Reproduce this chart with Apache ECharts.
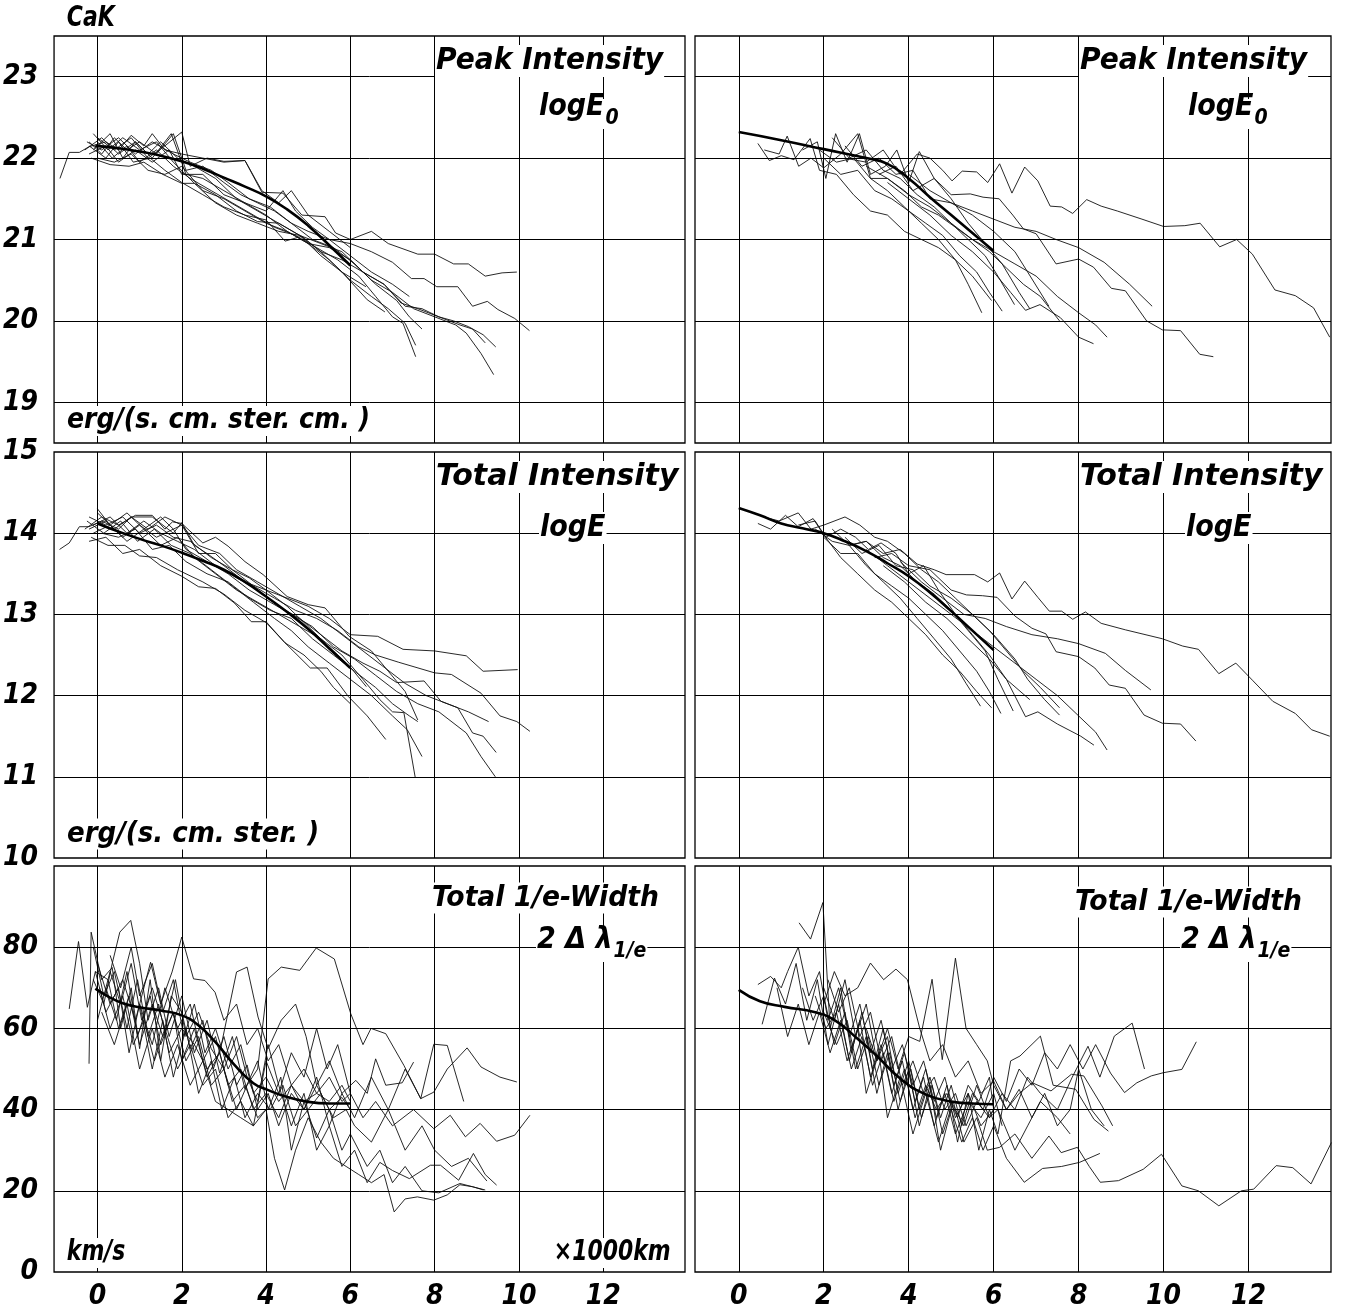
<!DOCTYPE html>
<html>
<head>
<meta charset="utf-8">
<title>CaK</title>
<script src="https://cdn.jsdelivr.net/npm/echarts@6/dist/echarts.min.js"></script>
<style>
html, body { margin: 0; padding: 0; background: #fff; }
#main { width: 1346px; height: 1311px; }
</style>
</head>
<body>
<div id="main"></div>
<script>
// ticks and grid lines
var xTicks = [0, 2, 4, 6, 8, 10, 12];
var peakTicks = [19, 20, 21, 22, 23];
var totalTicks = [10, 11, 12, 13, 14, 15];
var widthTicks = [0, 20, 40, 60, 80];
var peakGrid = [19, 20, 21, 22, 23];
var totalGrid = [11, 12, 13, 14];
var widthGrid = [20, 40, 60, 80];

// Peak Intensity logE0, left
var peakLeftMean = [[-0.05,22.15],[0.5,22.12],[1,22.08],[1.5,22.03],[2,21.96],[2.5,21.87],[3,21.76],[3.5,21.65],[4,21.53],[4.5,21.37],[5,21.17],[5.5,20.93],[6,20.68]];
var peakLeft = [
  [[-0.89,21.75],[-0.67,22.07],[-0.43,22.07],[-0.2,22.14],[0.2,22.2],[0.5,22.1],[0.8,22.28],[1.1,22.15],[1.3,22.3],[1.6,22.1],[2.0,22.05],[2.5,22.0],[3.0,21.95],[3.5,21.97],[3.9,21.58],[4.4,21.57],[4.85,21.3],[5.4,21.28],[5.65,21.08],[6.0,21.0],[6.5,21.1],[6.9,20.95],[7.6,20.82],[8.0,20.82],[8.45,20.7],[8.8,20.7],[9.2,20.55],[9.6,20.59],[9.95,20.6]],
  [[-0.2,22.2],[0.1,22.05],[0.4,22.25],[0.7,22.1],[1.0,22.2],[1.4,22.05],[1.8,22.3],[2.1,21.85],[2.5,21.9],[3.0,21.7],[3.4,21.55],[3.8,21.45],[4.2,21.35],[4.6,21.2],[5.0,21.1],[5.5,21.0],[6.0,20.95],[6.5,20.85],[7.0,20.72],[7.45,20.52],[7.75,20.52],[8.05,20.42],[8.55,20.42],[8.9,20.18],[9.25,20.24],[9.5,20.14],[9.9,20.03],[10.25,19.88]],
  [[-0.1,22.1],[0.3,22.3],[0.6,22.0],[0.9,22.2],[1.2,22.05],[1.5,22.2],[1.9,22.0],[2.3,21.9],[2.8,21.75],[3.3,21.5],[3.8,21.35],[4.3,21.2],[4.8,21.05],[5.3,20.95],[5.8,20.85],[6.3,20.6],[6.8,20.45],[7.3,20.18],[7.7,20.15],[8.1,20.05],[8.45,20.0],[8.8,19.93],[9.15,19.83],[9.45,19.68]],
  [[-0.2,22.05],[0.2,22.15],[0.5,21.95],[0.9,22.1],[1.3,21.95],[1.7,22.1],[2.0,21.8],[2.5,21.8],[3.0,21.55],[3.5,21.45],[4.0,21.3],[4.5,21.1],[5.0,20.95],[5.5,20.9],[6.0,20.75],[6.5,20.5],[7.0,20.35],[7.5,20.15],[8.0,20.05],[8.5,19.95],[8.75,19.85],[9.1,19.6],[9.4,19.34]],
  [[-0.25,22.2],[0.1,22.1],[0.5,22.25],[0.9,22.05],[1.3,22.2],[1.8,22.05],[2.2,21.95],[2.7,21.85],[3.1,21.7],[3.6,21.5],[4.1,21.4],[4.6,21.2],[5.1,21.0],[5.6,20.9],[6.1,20.7],[6.6,20.45],[7.1,20.25],[7.4,20.05],[7.7,19.9]],
  [[0.0,22.2],[0.35,22.0],[0.7,22.15],[1.0,21.95],[1.4,22.1],[1.8,21.9],[2.2,21.75],[2.7,21.6],[3.2,21.45],[3.7,21.3],[4.2,21.15],[4.7,21.05],[5.2,20.9],[5.7,20.75],[6.2,20.55],[6.6,20.3],[7.0,20.05],[7.25,19.97],[7.55,19.56]],
  [[-0.2,22.15],[0.2,22.0],[0.5,22.2],[0.85,21.95],[1.25,22.0],[1.6,21.85],[2.0,21.7],[2.5,21.55],[3.0,21.4],[3.5,21.3],[4.0,21.24],[4.45,20.98],[4.85,21.04],[5.3,20.85],[5.8,20.6],[6.4,20.26],[6.82,20.11]],
  [[-0.1,22.3],[0.25,22.1],[0.6,22.25],[1.0,22.1],[1.4,22.2],[1.8,21.95],[2.3,21.69],[2.8,21.55],[3.3,21.35],[3.8,21.22],[4.3,21.2],[4.8,21.05],[5.3,20.8],[5.8,20.6],[6.37,20.42]],
  [[-0.15,22.0],[0.3,21.92],[0.75,21.9],[1.1,21.95],[1.55,21.8],[2.0,21.69],[2.3,21.69],[2.8,21.45],[3.3,21.3],[3.8,21.2],[4.3,21.1],[4.8,21.05],[5.3,20.85],[5.8,20.75],[6.3,20.6],[6.8,20.45],[7.2,20.22],[7.6,20.15],[8.1,20.05],[8.6,19.95],[8.9,19.9],[9.2,19.73]],
  [[0.0,22.25],[0.4,22.1],[0.8,22.25],[1.2,22.0],[1.6,22.15],[2.0,22.32],[2.2,21.9],[2.6,22.0],[3.0,21.96],[3.5,21.97],[3.9,21.6],[4.3,21.45],[4.6,21.6],[5.0,21.3],[5.5,21.1],[6.0,20.9]],
  [[-0.3,22.1],[0.1,22.25],[0.5,22.05],[0.9,22.2],[1.3,22.0],[1.75,22.3],[2.1,21.8],[2.5,21.75],[3.0,21.6],[3.5,21.45],[4.0,21.35],[4.4,21.6],[4.7,21.35],[5.1,21.15],[5.5,21.0],[6.0,20.8],[6.5,20.6],[7.0,20.45],[7.4,20.3]],
  [[0.0,22.0],[0.4,21.95],[0.8,22.05],[1.2,21.85],[1.6,21.8],[2.0,21.9],[2.5,21.6],[3.0,21.5],[3.5,21.35],[4.0,21.2],[4.5,21.1],[5.0,20.95],[5.5,20.75],[6.0,20.5],[6.5,20.3],[6.9,20.15],[7.3,19.97],[7.55,19.7]]
];

// Peak Intensity logE0, right
var peakRightMean = [[0,22.32],[1,22.22],[2,22.11],[3,22.0],[3.5,21.93],[4,21.75],[4.5,21.52],[5,21.3],[5.5,21.08],[6,20.86]];
var peakRight = [
  [[2.5,22.0],[3.0,21.95],[3.4,22.1],[3.8,21.8],[4.2,22.05],[4.5,22.0],[4.8,21.85],[5.02,21.72],[5.26,21.84],[5.6,21.83],[5.86,21.7],[6.14,21.93],[6.43,21.57],[6.73,21.89],[7.04,21.72],[7.33,21.41],[7.6,21.4],[7.86,21.32],[8.19,21.49],[8.53,21.41],[8.91,21.35],[9.49,21.25],[10.0,21.16],[10.5,21.17],[10.86,21.2],[11.32,20.91],[11.72,21.0],[12.09,20.82],[12.62,20.38],[13.1,20.31],[13.53,20.16],[13.91,19.8]],
  [[3.3,21.8],[3.7,21.9],[4.1,21.6],[4.6,21.75],[5.0,21.55],[5.45,21.56],[5.75,21.52],[6.13,21.5],[6.45,21.3],[6.7,21.13],[7.0,21.07],[7.47,20.7],[8.0,20.76],[8.35,20.66],[8.77,20.4],[9.1,20.37],[9.6,20.0],[9.97,19.89],[10.4,19.88],[10.85,19.59],[11.17,19.56]],
  [[4.0,21.8],[4.5,21.6],[5.0,21.45],[5.5,21.35],[6.0,21.25],[6.5,21.15],[7.0,21.1],[7.47,21.0],[8.0,20.9],[8.6,20.72],[9.2,20.45],[9.73,20.18]],
  [[3.0,21.9],[3.5,21.75],[4.0,21.55],[4.5,21.4],[5.0,21.2],[5.5,21.0],[6.0,20.85],[6.5,20.7],[7.0,20.55],[7.5,20.3],[8.0,20.1],[8.4,19.95],[8.67,19.8]],
  [[3.5,21.7],[4.0,21.5],[4.5,21.3],[5.0,21.05],[5.5,20.85],[6.0,20.6],[6.4,20.35],[6.75,20.13],[7.09,20.2],[7.57,20.04],[8.0,19.8],[8.35,19.72]],
  [[1.9,22.1],[2.3,21.95],[2.7,22.0],[3.1,21.75],[3.5,21.6],[3.9,21.4],[4.3,21.2],[4.7,21.0],[5.1,20.75],[5.4,20.45],[5.72,20.1]],
  [[2.0,22.0],[2.4,21.8],[2.8,21.85],[3.2,21.6],[3.6,21.5],[4.0,21.35],[4.4,21.2],[4.8,21.05],[5.2,20.8],[5.6,20.6],[5.9,20.35],[6.2,20.12]],
  [[2.2,22.25],[2.6,22.0],[3.0,22.1],[3.4,21.85],[3.8,21.75],[4.2,21.55],[4.6,21.4],[5.0,21.2],[5.4,21.0],[5.8,20.8],[6.1,20.55],[6.49,20.2]],
  [[2.5,22.15],[2.9,21.9],[3.3,22.0],[3.7,21.8],[4.1,21.85],[4.5,21.5],[5.0,21.45],[5.5,21.3],[6.0,21.1],[6.5,20.85],[6.8,20.6],[7.3,20.18]],
  [[0.45,22.18],[0.72,21.97],[1.0,22.03],[1.3,21.98],[1.68,22.24],[1.9,21.85],[2.3,21.8],[2.7,21.55],[3.1,21.35],[3.5,21.3],[3.9,21.1],[4.3,21.0],[4.7,20.9],[5.1,20.75],[5.5,20.55],[5.95,20.25]],
  [[0.6,22.1],[0.95,22.05],[1.14,22.27],[1.41,21.9],[1.7,22.0],[2.0,21.88],[2.4,22.05],[2.8,22.3],[3.1,21.75],[3.5,21.75],[3.9,21.6],[4.3,21.4],[4.7,21.3],[5.1,21.15],[5.5,21.0],[5.9,20.85],[6.3,20.65],[6.7,20.45],[7.1,20.3],[7.55,20.0]],
  [[1.5,22.1],[1.85,22.2],[2.05,21.75],[2.28,22.3],[2.55,21.95],[2.84,22.3],[3.1,21.8],[3.45,21.9],[3.72,22.1],[4.0,21.7],[4.25,22.08],[4.6,21.75],[5.0,21.5],[5.4,21.2],[5.8,20.95],[6.2,20.7],[6.6,20.35],[6.85,20.15]]
];

// Total Intensity logE, left
var totalLeftMean = [[0,14.12],[0.5,14.02],[1,13.93],[1.5,13.85],[2,13.76],[2.5,13.66],[3,13.55],[3.5,13.4],[4,13.22],[4.5,13.03],[5,12.82],[5.5,12.58],[6,12.34]];
var totalLeft = [
  [[-0.9,13.8],[-0.67,13.88],[-0.43,14.08],[-0.2,14.08],[0.1,14.15],[0.5,14.05],[0.8,14.2],[1.3,14.2],[1.8,14.0],[2.0,14.13],[2.3,13.85],[2.6,13.75],[3.0,13.6],[3.5,13.4],[4.0,13.3],[4.5,13.2],[5.0,13.1],[5.5,12.95],[6.0,12.75],[6.65,12.73],[7.25,12.57],[8.0,12.55],[8.75,12.49],[9.15,12.3],[9.97,12.32]],
  [[-0.2,14.2],[0.2,14.1],[0.6,14.2],[1.0,14.0],[1.4,14.1],[1.8,13.95],[2.2,13.9],[2.7,13.7],[3.2,13.55],[3.7,13.35],[4.2,13.2],[4.7,13.05],[5.2,12.95],[5.7,12.8],[6.2,12.6],[6.6,12.5],[7.15,12.41],[8.0,12.28],[8.4,12.26],[9.1,12.03],[9.55,11.75],[9.95,11.68],[10.26,11.56]],
  [[-0.1,14.1],[0.3,14.2],[0.7,14.0],[1.1,14.15],[1.5,14.0],[1.9,13.9],[2.3,13.8],[2.8,13.6],[3.3,13.45],[3.8,13.3],[4.3,13.1],[4.8,12.95],[5.3,12.75],[5.8,12.55],[6.3,12.4],[6.7,12.3],[7.1,12.16],[7.75,12.18],[8.15,11.93],[8.55,11.85],[8.9,11.54],[9.15,11.5],[9.46,11.3]],
  [[-0.2,14.05],[0.2,14.15],[0.6,13.95],[1.0,14.1],[1.4,13.95],[1.8,14.05],[2.1,13.8],[2.6,13.65],[3.1,13.5],[3.6,13.3],[4.1,13.15],[4.6,13.0],[5.1,12.85],[5.6,12.6],[6.1,12.45],[6.6,12.25],[7.1,12.05],[7.6,11.9],[8.1,11.8],[8.75,11.54],[9.1,11.25],[9.44,11.0]],
  [[0.0,14.25],[0.4,14.05],[0.8,14.2],[1.2,14.05],[1.6,14.2],[2.0,14.1],[2.4,13.85],[2.9,13.75],[3.3,13.55],[3.8,13.4],[4.3,13.25],[4.8,13.1],[5.3,12.95],[5.8,12.75],[6.3,12.55],[6.8,12.35],[7.3,12.15],[7.8,12.0],[8.3,11.9],[8.8,11.8],[9.28,11.68]],
  [[-0.25,14.15],[0.15,14.0],[0.55,14.15],[0.95,13.9],[1.35,14.05],[1.75,13.85],[2.2,13.75],[2.7,13.55],[3.2,13.35],[3.7,13.15],[4.2,12.95],[4.6,12.8],[5.0,12.6],[5.5,12.4],[6.0,12.2],[6.5,12.0],[7.0,11.75],[7.35,11.58],[7.7,11.25]],
  [[-0.1,14.0],[0.3,14.1],[0.7,13.9],[1.1,14.05],[1.5,13.85],[1.9,13.95],[2.3,13.7],[2.8,13.5],[3.3,13.3],[3.8,13.15],[4.3,13.0],[4.8,12.85],[5.3,12.7],[5.8,12.5],[6.3,12.2],[6.7,11.95],[7.0,11.8],[7.27,11.79],[7.54,10.99]],
  [[-0.15,13.95],[0.25,13.85],[0.65,13.85],[1.0,13.72],[1.4,13.7],[1.9,13.55],[2.5,13.4],[3.0,13.25],[3.5,13.05],[4.0,12.9],[4.45,12.65],[5.05,12.34],[5.45,12.34],[5.95,11.99],[6.4,11.75],[6.84,11.46]],
  [[0.0,14.3],[0.3,14.1],[0.7,14.25],[1.1,14.05],[1.5,14.2],[1.8,14.05],[2.0,14.1],[2.4,13.75],[2.8,13.75],[3.2,13.55],[3.6,13.45],[4.0,13.3],[4.5,13.1],[5.0,12.85],[5.5,12.6],[6.0,12.35],[6.38,12.11]],
  [[-0.2,13.9],[0.2,13.95],[0.6,13.75],[1.0,13.8],[1.5,13.6],[2.0,13.47],[2.4,13.34],[2.8,13.32],[3.25,13.14],[3.65,12.91],[4.0,12.91],[4.45,12.65],[4.9,12.5],[5.3,12.3],[5.6,12.1],[6.0,11.9]],
  [[-0.3,14.05],[0.1,14.2],[0.5,14.1],[0.9,14.22],[1.3,14.22],[1.6,14.05],[1.78,14.14],[2.0,14.12],[2.5,13.88],[2.8,13.95],[3.1,13.84],[3.5,13.65],[3.93,13.49],[4.5,13.22],[5.0,13.12],[5.4,13.08],[5.97,12.73],[6.5,12.55],[6.9,12.3],[7.3,12.05],[7.6,11.7]],
  [[0.1,14.0],[0.5,13.95],[0.9,14.05],[1.3,13.8],[1.7,13.85],[2.1,13.65],[2.6,13.5],[3.1,13.4],[3.6,13.2],[4.1,13.05],[4.6,12.95],[5.1,12.7],[5.6,12.5],[6.1,12.3],[6.6,12.1],[7.0,11.9],[7.4,11.75],[7.6,11.68]]
];

// Total Intensity logE, right
var totalRightMean = [[0,14.31],[0.5,14.22],[1,14.12],[1.5,14.06],[2,14.0],[2.5,13.9],[3,13.78],[3.5,13.63],[4,13.47],[4.5,13.27],[5,13.04],[5.5,12.8],[6,12.56]];
var totalRight = [
  [[2.6,13.85],[3.0,13.9],[3.4,13.75],[3.8,13.8],[4.2,13.62],[4.6,13.55],[4.88,13.49],[5.55,13.49],[5.86,13.4],[6.14,13.51],[6.43,13.19],[6.73,13.41],[7.04,13.21],[7.31,13.04],[7.6,13.04],[7.86,12.94],[8.16,13.03],[8.53,12.89],[9.1,12.81],[9.97,12.7],[10.45,12.61],[10.82,12.57],[11.3,12.27],[11.7,12.4],[12.09,12.19],[12.57,11.93],[13.1,11.78],[13.48,11.58],[13.91,11.5]],
  [[3.2,13.7],[3.6,13.75],[4.0,13.6],[4.5,13.55],[5.0,13.3],[5.36,13.24],[5.74,13.23],[6.08,13.21],[6.5,12.98],[6.9,12.83],[7.23,12.76],[7.47,12.54],[8.0,12.48],[8.38,12.34],[8.72,12.13],[9.1,12.09],[9.54,11.76],[9.97,11.66],[10.4,11.65],[10.76,11.44]],
  [[3.8,13.65],[4.3,13.4],[4.8,13.2],[5.3,13.0],[5.8,12.95],[6.3,12.85],[6.9,12.75],[7.5,12.7],[8.0,12.64],[8.63,12.52],[9.1,12.31],[9.7,12.07]],
  [[3.0,13.8],[3.5,13.6],[4.0,13.4],[4.5,13.2],[5.0,13.0],[5.5,12.8],[6.0,12.6],[6.5,12.4],[7.0,12.2],[7.5,12.0],[8.0,11.75],[8.4,11.55],[8.67,11.33]],
  [[3.4,13.6],[3.9,13.4],[4.4,13.15],[4.9,12.95],[5.4,12.7],[5.9,12.45],[6.3,12.2],[6.75,11.74],[7.04,11.8],[7.5,11.65],[8.05,11.5],[8.36,11.39]],
  [[1.8,14.05],[2.2,13.9],[2.6,13.85],[3.0,13.6],[3.4,13.4],[3.8,13.2],[4.2,12.95],[4.6,12.7],[5.0,12.45],[5.35,12.15],[5.69,11.87]],
  [[2.0,13.95],[2.4,13.75],[2.8,13.75],[3.2,13.5],[3.6,13.35],[4.0,13.2],[4.4,13.0],[4.8,12.8],[5.2,12.55],[5.6,12.3],[5.9,12.05],[6.17,11.78]],
  [[2.2,14.05],[2.6,13.85],[3.0,13.9],[3.4,13.7],[3.8,13.6],[4.2,13.4],[4.6,13.25],[5.0,13.05],[5.4,12.8],[5.8,12.55],[6.1,12.2],[6.46,11.81]],
  [[2.5,13.95],[2.9,13.75],[3.3,13.85],[3.7,13.6],[4.1,13.55],[4.5,13.35],[5.0,13.2],[5.5,13.0],[6.0,12.75],[6.5,12.45],[6.8,12.2],[7.2,11.95],[7.55,11.76]],
  [[0.45,14.12],[0.75,14.05],[1.1,14.22],[1.4,14.08],[1.75,14.18],[2.0,13.98],[2.4,13.7],[2.8,13.5],[3.2,13.3],[3.6,13.15],[4.0,12.95],[4.4,12.75],[4.8,12.5],[5.2,12.3],[5.6,12.05],[5.95,11.85]],
  [[0.6,14.2],[0.95,14.15],[1.4,14.25],[1.7,14.05],[2.0,14.1],[2.5,14.2],[2.85,14.1],[3.2,13.95],[3.5,13.9],[3.9,13.75],[4.3,13.55],[4.7,13.4],[5.1,13.2],[5.5,13.0],[5.9,12.8],[6.3,12.55],[6.7,12.3],[7.1,12.1],[7.55,11.85]],
  [[1.4,14.1],[1.8,14.15],[2.05,13.95],[2.4,14.05],[2.75,13.95],[3.05,13.8],[3.35,13.88],[3.7,13.75],[4.0,13.5],[4.35,13.6],[4.7,13.3],[5.1,13.0],[5.5,12.75],[5.9,12.5],[6.3,12.2],[6.85,11.95]]
];

// Total 1/e-Width, left
var widthLeftMean = [[-0.05,69.8],[0.3,67.6],[0.6,66.2],[1,65.2],[1.5,64.4],[2,63.2],[2.4,60.7],[2.8,56.6],[3.25,51],[3.7,46.5],[4.05,44.8],[4.5,43.1],[5,41.9],[5.5,41.5],[6,41.5]];
var widthLeft = [
  [[-0.67,64.8],[-0.45,81.4],[-0.24,65.2],[-0.05,74],[0.25,72],[0.5,60],[0.75,68],[1.0,56],[1.3,66],[1.55,58],[1.8,64],[2.0,52],[2.3,60],[2.6,48],[2.9,54],[3.2,42],[3.5,46],[3.8,38],[4.0,40]],
  [[-0.2,51.3],[-0.15,83.7],[0.1,72],[0.35,75],[0.55,60],[0.8,70],[1.0,55],[1.25,72],[1.5,52],[1.75,68],[2.0,64],[2.2,55],[2.5,62],[2.75,50],[3.0,58],[3.3,46],[3.55,51],[3.8,40],[4.05,44],[4.3,36],[4.6,44],[4.9,40],[5.2,46],[5.5,40],[5.8,43],[6.0,40]],
  [[-0.1,72],[0.15,66],[0.35,76],[0.53,83.7],[0.79,86.6],[1.0,76],[1.2,62],[1.45,70],[1.7,58],[2.0,68],[2.3,54],[2.6,62],[2.9,49],[3.2,58],[3.5,45],[3.8,52],[4.05,40],[4.35,48],[4.6,30],[4.9,42],[5.2,33],[5.5,40],[5.8,30],[6.0,34],[6.4,26],[6.7,30],[7.0,22],[7.3,26],[7.7,20],[8.1,19.5],[8.6,21.8],[9.2,20.2]],
  [[0.0,76],[0.3,66],[0.6,72],[0.9,62],[1.26,76.3],[1.5,66],[1.77,73.9],[2.0,82.5],[2.28,72.2],[2.55,71.8],[2.79,68.9],[3.0,62],[3.3,66],[3.55,56],[3.8,60],[4.05,52],[4.3,56],[4.6,46],[4.9,50],[5.2,44],[5.5,48],[5.8,42],[6.0,44],[6.3,38],[6.6,42],[7.0,36],[7.5,40],[7.98,35.3],[8.37,38.6],[8.73,33.3],[9.08,36.6],[9.47,32.2],[9.9,33.7],[10.26,38.6]],
  [[0.2,70],[0.45,62],[0.7,74],[0.95,58],[1.25,68],[1.5,56],[1.8,64],[2.1,52],[2.4,58],[2.7,46],[3.0,50],[3.3,40],[3.55,46],[3.8,50],[4.05,72.2],[4.36,75.1],[4.8,74.3],[5.19,79.8],[5.62,77.1],[6.01,63.6],[6.3,56],[6.49,60],[6.84,58.7],[7.27,50.9],[7.67,42.7],[7.98,44.3],[8.3,50],[8.77,55.2],[9.1,50.5],[9.55,48.0],[9.95,46.8]],
  [[-0.1,80],[0.15,68],[0.4,74],[0.7,60],[0.95,72],[1.2,58],[1.45,66],[1.7,54],[2.0,60],[2.3,56],[2.6,50],[2.9,54],[3.3,73.9],[3.55,75.1],[3.81,62.8],[4.05,55],[4.36,62],[4.7,66],[4.95,58],[5.2,46],[5.5,52],[5.8,44],[6.13,47.2],[6.4,44],[6.6,52.5],[6.84,46],[7.23,46.6],[7.5,51.7]],
  [[1.0,66],[1.3,56],[1.6,70],[1.9,60],[2.2,66],[2.5,52],[2.8,58],[3.1,46],[3.4,50],[3.7,40],[4.0,44],[4.3,38],[4.6,46],[4.9,40],[5.2,48],[5.5,36],[5.8,44],[6.1,38],[6.5,48],[6.9,40],[7.3,50],[7.67,42.7],[7.98,56.1],[8.3,55.8],[8.69,42]],
  [[0.1,64],[0.4,56],[0.7,66],[1.0,50],[1.3,60],[1.6,48],[1.9,56],[2.2,46],[2.5,52],[2.8,42],[3.1,40],[3.4,38],[3.7,36],[4.0,40],[4.2,28],[4.44,20.2],[4.7,30],[5.0,38],[5.3,32],[5.6,28],[5.9,26],[6.2,24],[6.5,22],[6.8,24],[7.04,14.8],[7.3,18],[7.59,18.5],[7.98,17.7],[8.3,19],[8.6,21.5],[8.9,21],[9.16,20.2]],
  [[0.0,62],[0.3,74],[0.55,66],[0.8,76],[1.05,62],[1.3,70],[1.6,60],[1.85,72],[2.1,58],[2.4,64],[2.7,55],[3.0,50],[3.3,58],[3.55,48],[3.8,42],[4.05,56],[4.3,46],[4.6,36],[4.9,44],[5.2,30],[5.5,36],[5.8,26],[6.1,30],[6.4,22],[6.7,27],[7.0,25],[7.4,23],[7.9,26.3],[8.14,26.3],[8.57,22.6],[8.92,29.2],[9.2,24],[9.47,21.4]],
  [[-0.05,74],[0.2,64],[0.5,70],[0.75,54],[1.0,66],[1.3,50],[1.55,62],[1.8,48],[2.1,60],[2.4,44],[2.7,52],[2.95,40],[3.25,48],[3.5,38],[3.8,44],[4.1,40],[4.4,46],[4.7,36],[5.0,40],[5.3,44],[5.6,38],[5.9,40],[6.1,36],[6.5,32],[6.9,40],[7.3,30],[7.7,36],[8.0,30],[8.4,26],[8.8,28],[9.24,22.4]],
  [[0.3,78],[0.55,70],[0.8,80],[1.0,68],[1.3,76],[1.55,64],[1.8,72],[2.05,58],[2.3,66],[2.55,54],[2.8,60],[3.1,50],[3.4,56],[3.7,44],[4.0,48],[4.3,42],[4.6,46],[4.9,42],[5.2,44],[5.5,42],[5.8,46],[6.0,42]],
  [[0.05,70],[0.3,60],[0.6,68],[0.85,56],[1.1,62],[1.35,52],[1.6,60],[1.9,50],[2.2,56],[2.5,46],[2.8,50],[3.1,38],[3.4,42],[3.7,36],[4.0,52],[4.3,44],[4.6,54],[4.9,48],[5.2,60],[5.45,50],[5.7,56],[6.0,44]]
];

// Total 1/e-Width, right
var widthRightMean = [[0,69.5],[0.5,66.7],[1.08,65.3],[1.8,64.0],[2.29,61.8],[2.77,57.7],[3.25,53.2],[3.83,47.4],[4.41,43.7],[5,42.0],[5.5,41.5],[6,41.3]];
var widthRight = [
  [[0.45,70.8],[0.75,72.8],[1.0,70],[1.15,74],[1.4,80],[1.65,68],[1.9,74],[2.1,62],[2.35,70],[2.6,58],[2.85,66],[3.1,54],[3.35,62],[3.6,50],[3.85,56],[4.1,46],[4.35,52],[4.6,42],[4.85,48],[5.1,38],[5.4,44],[5.7,36],[6.0,40]],
  [[0.55,61],[0.84,72.4],[1.1,66],[1.35,76],[1.6,62],[1.85,72],[2.1,56],[2.35,66],[2.6,52],[2.85,62],[3.1,48],[3.35,56],[3.6,44],[3.85,52],[4.1,40],[4.35,48],[4.6,36],[4.85,44],[5.1,34],[5.4,42],[5.7,38],[6.0,44],[6.2,36]],
  [[1.42,86],[1.69,82],[1.98,91],[2.15,60],[2.4,70],[2.65,54],[2.9,64],[3.15,50],[3.4,60],[3.65,46],[3.9,54],[4.15,42],[4.4,50],[4.65,38],[4.9,46],[5.15,32],[5.4,44],[5.65,30],[5.9,40],[6.1,34],[6.4,52],[6.62,53.2],[7.1,58.1],[7.4,46],[7.93,45],[8.36,37.6],[8.7,34.7]],
  [[2.0,70],[2.25,62],[2.5,72],[2.75,58],[3.0,66],[3.25,52],[3.5,60],[3.75,50],[4.0,58],[4.26,56.8],[4.55,72.1],[4.79,52.3],[5.1,77.3],[5.35,60],[5.6,56],[5.85,52],[6.0,46],[6.3,40],[6.6,44],[6.91,46.6],[7.35,44.6],[7.83,48.7],[8.12,48.3],[8.55,40.9],[8.8,36]],
  [[2.0,66],[2.25,74],[2.5,68],[2.8,70],[3.1,76.1],[3.41,72],[3.7,74.6],[3.97,72],[4.26,60],[4.5,52],[4.8,56],[5.1,48],[5.4,52],[5.7,44],[6.0,47],[6.3,40],[6.6,45],[6.9,38],[7.2,44],[7.5,36],[7.8,40],[8.0,50],[8.3,40],[8.6,36]],
  [[2.0,64],[2.3,56],[2.55,62],[2.8,50],[3.05,58],[3.3,46],[3.55,54],[3.8,42],[4.05,50],[4.3,38],[4.55,46],[4.8,34],[5.05,42],[5.3,32],[5.6,38],[5.85,30],[6.14,30.7],[6.5,34],[6.9,28],[7.3,33.5],[7.59,29.4],[7.97,30.7],[8.25,26],[8.51,22.1],[8.94,22.5],[9.52,25.3],[9.95,29],[10.43,21.2],[10.82,20],[11.3,16.3],[11.83,20],[12.12,20.4],[12.65,26.2],[13.04,25.7],[13.47,21.7],[13.95,31.9]],
  [[2.1,72],[2.35,64],[2.6,70],[2.85,58],[3.1,64],[3.35,52],[3.6,58],[3.85,46],[4.1,52],[4.35,44],[4.6,48],[4.85,40],[5.1,44],[5.35,36],[5.6,42],[5.9,38],[6.2,44],[6.5,40],[6.8,48],[7.1,44],[7.5,40],[7.85,48],[8.22,55.6],[8.5,48],[8.84,58.1],[9.26,61.3],[9.55,50]],
  [[1.5,70],[1.75,62],[2.0,68],[2.25,56],[2.5,64],[2.75,50],[3.0,58],[3.25,44],[3.5,54],[3.75,40],[4.0,50],[4.25,36],[4.5,46],[4.75,30],[5.0,40],[5.25,32],[5.5,38],[5.75,30],[6.0,36],[6.3,28],[6.72,22.1],[7.15,25.5],[7.6,26],[8.02,27],[8.5,29.2]],
  [[3.0,60],[3.25,52],[3.5,58],[3.75,44],[4.0,52],[4.25,40],[4.5,48],[4.75,38],[5.0,46],[5.25,36],[5.5,44],[5.75,40],[6.0,48],[6.3,42],[6.6,50],[6.9,46],[7.2,54],[7.5,50],[7.8,56],[8.1,50],[8.4,56],[8.75,49],[9.08,44.2],[9.37,46.6],[9.71,48.3],[10.0,49.1],[10.43,49.9],[10.77,56.7]],
  [[0.9,70],[1.15,58],[1.4,66],[1.65,56],[1.9,64],[2.15,54],[2.4,62],[2.65,50],[2.9,58],[3.15,46],[3.4,54],[3.65,42],[3.9,50],[4.15,38],[4.4,46],[4.65,40],[4.9,44],[5.15,38],[5.4,46],[5.65,42],[5.9,48],[6.0,40]],
  [[1.8,68],[2.05,60],[2.3,64],[2.55,52],[2.8,60],[3.0,44],[3.3,54],[3.5,38],[3.8,48],[4.1,34],[4.4,44],[4.7,32],[5.0,42],[5.3,36],[5.6,46],[5.9,38],[6.1,40],[6.5,30],[6.8,36],[7.1,42],[7.5,38],[7.8,34]]
];

var NUM_FONT = "'DejaVu Sans Condensed', sans-serif";
var TXT_FONT = "'DejaVu Sans Condensed', sans-serif";

var panels = [
  { left: 52,  top: 36,  w: 633, h: 407, ymin: 18.5, ymax: 23.5, ticks: peakTicks,  hl: peakGrid,  lines: peakLeft,   mean: peakLeftMean,   yLab: true,  xLab: false },
  { left: 695, top: 36,  w: 636, h: 407, ymin: 18.5, ymax: 23.5, ticks: peakTicks,  hl: peakGrid,  lines: peakRight,  mean: peakRightMean,  yLab: false, xLab: false },
  { left: 52,  top: 452, w: 633, h: 406, ymin: 10,   ymax: 15,   ticks: totalTicks, hl: totalGrid, lines: totalLeft,  mean: totalLeftMean,  yLab: true,  xLab: false },
  { left: 695, top: 452, w: 636, h: 406, ymin: 10,   ymax: 15,   ticks: totalTicks, hl: totalGrid, lines: totalRight, mean: totalRightMean, yLab: false, xLab: false },
  { left: 52,  top: 866, w: 633, h: 407, ymin: 0,    ymax: 100,  ticks: widthTicks, hl: widthGrid, lines: widthLeft,  mean: widthLeftMean,  yLab: true,  xLab: true },
  { left: 695, top: 866, w: 636, h: 407, ymin: 0,    ymax: 100,  ticks: widthTicks, hl: widthGrid, lines: widthRight, mean: widthRightMean, yLab: false, xLab: true }
];

var numLabel = { color: '#000', fontFamily: NUM_FONT, fontStyle: 'italic', fontWeight: 'bold', fontSize: 28 };

var grids = [], xAxes = [], yAxes = [], series = [];
panels.forEach(function(p, i) {
  grids.push({ left: p.left, top: p.top, width: p.w, height: p.h, show: true, borderColor: '#000', borderWidth: 1.3 });
  xAxes.push({
    type: 'value', gridIndex: i, min: -1.03, max: 13.94,
    axisLine: { show: false }, axisTick: { show: false }, splitLine: { show: false },
    axisLabel: Object.assign({ show: p.xLab, customValues: xTicks, margin: 11 }, numLabel)
  });
  yAxes.push({
    type: 'value', gridIndex: i, min: p.ymin, max: p.ymax,
    axisLine: { show: false }, axisTick: { show: false }, splitLine: { show: false },
    axisLabel: Object.assign({ show: p.yLab, customValues: p.ticks, margin: 16 }, numLabel)
  });
  // grid lines
  var ml = xTicks.map(function(v) { return { xAxis: v }; })
    .concat(p.hl.map(function(v) { return { yAxis: v }; }));
  series.push({
    type: 'line', xAxisIndex: i, yAxisIndex: i, data: [], z: 1, silent: true,
    markLine: { silent: true, symbol: ['none', 'none'], label: { show: false },
      lineStyle: { color: '#000', width: 1, type: 'solid' }, data: ml }
  });
  p.lines.forEach(function(d) {
    series.push({ type: 'line', xAxisIndex: i, yAxisIndex: i, data: d, showSymbol: false, z: 3,
      lineStyle: { color: '#111', width: 0.9 } });
  });
  series.push({ type: 'line', xAxisIndex: i, yAxisIndex: i, data: p.mean, smooth: true, showSymbol: false, z: 4,
    lineStyle: { color: '#000', width: 2.6 } });
});

function txt(x, y, s, size, sx, bg) {
  return { type: 'text', x: x, y: y, scaleX: sx, z: 100, style: {
    text: s, fontSize: size, fontFamily: TXT_FONT, fontStyle: 'italic', fontWeight: 'bold', fill: '#000',
    verticalAlign: 'middle', backgroundColor: bg ? '#fff' : 'transparent', padding: [1, 1] } };
}
function sub(x, y, main, low, sx) {
  var base = { fontFamily: TXT_FONT, fontStyle: 'italic', fontWeight: 'bold', fill: '#000' };
  return { type: 'text', x: x, y: y, scaleX: sx, z: 100, style: {
    text: '{a|' + main + '}{b|' + low + '}', verticalAlign: 'middle', backgroundColor: '#fff', padding: [0, 1],
    rich: {
      a: Object.assign({ fontSize: 30, lineHeight: 30, padding: [0, 0, 7, 0], verticalAlign: 'bottom' }, base),
      b: Object.assign({ fontSize: 21, lineHeight: 23, verticalAlign: 'bottom', padding: [0, 0, 0, 1] }, base)
    } } };
}

var texts = [
  txt(66, 19, 'CaK', 28, 0.87, false),
  txt(435, 61, 'Peak Intensity', 30, 1.04, true),
  sub(538, 114, 'logE', '0', 1),
  txt(66, 421, 'erg/(s. cm. ster. cm. )', 28, 1, true),
  txt(1079, 61, 'Peak Intensity', 30, 1.04, true),
  sub(1187, 114, 'logE', '0', 1),
  txt(435, 477, 'Total Intensity', 30, 1.11, true),
  txt(539, 528, 'logE', 30, 1, true),
  txt(66, 834, 'erg/(s. cm. ster. )', 29, 1, true),
  txt(1079, 477, 'Total Intensity', 30, 1.11, true),
  txt(1185, 528, 'logE', 30, 1, true),
  txt(431, 898, 'Total 1/e-Width', 29, 1.02, true),
  sub(536, 947, '2 Δ λ', '1/e', 1),
  txt(66, 1253, 'km/s', 28, 0.87, true),
  txt(553, 1253, '×1000km', 28, 0.87, true),
  txt(1074, 902, 'Total 1/e-Width', 29, 1.02, true),
  sub(1180, 947, '2 Δ λ', '1/e', 1)
];

var myChart = echarts.init(document.getElementById('main'));
myChart.setOption({
  animation: false,
  backgroundColor: '#fff',
  grid: grids,
  xAxis: xAxes,
  yAxis: yAxes,
  series: series,
  graphic: texts
});
</script>
</body>
</html>
